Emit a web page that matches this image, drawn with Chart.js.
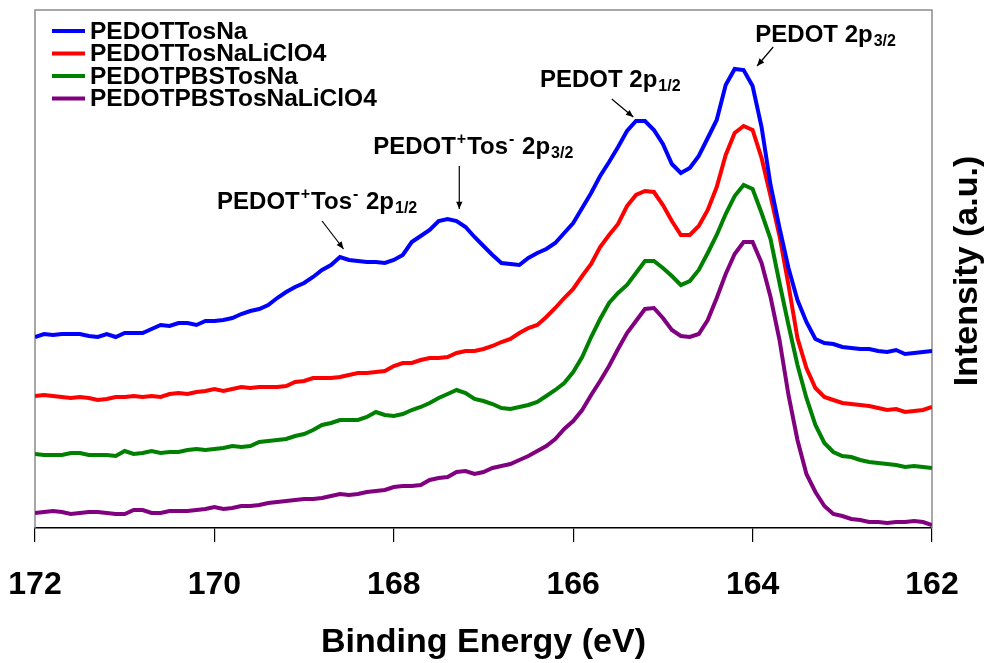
<!DOCTYPE html>
<html lang="en">
<head>
<meta charset="UTF-8" />
<title>S 2p spectra - PEDOT films</title>
<script src="https://cdn.jsdelivr.net/npm/chart.js@4.4.1/dist/chart.umd.min.js"></script>
<style>
  html, body { margin: 0; padding: 0; background: #fff; }
  #wrap { width: 988px; height: 663px; }
</style>
</head>
<body>
<div id="wrap"><canvas id="xps"></canvas></div>
<script>
// binding energy of each scan step (eV), 172 -> 162
const energies = [
  172.0, 171.9, 171.8, 171.7, 171.6, 171.5, 171.4, 171.3, 171.2, 171.1,
  171.0, 170.9, 170.8, 170.7, 170.6, 170.5, 170.4, 170.3, 170.2, 170.1,
  170.0, 169.9, 169.8, 169.7, 169.6, 169.5, 169.4, 169.3, 169.2, 169.1,
  169.0, 168.9, 168.8, 168.7, 168.6, 168.5, 168.4, 168.3, 168.2, 168.1,
  168.0, 167.9, 167.8, 167.7, 167.6, 167.5, 167.4, 167.3, 167.2, 167.1,
  167.0, 166.9, 166.8, 166.7, 166.6, 166.5, 166.4, 166.3, 166.2, 166.1,
  166.0, 165.9, 165.8, 165.7, 165.6, 165.5, 165.4, 165.3, 165.2, 165.1,
  165.0, 164.9, 164.8, 164.7, 164.6, 164.5, 164.4, 164.3, 164.2, 164.1,
  164.0, 163.9, 163.8, 163.7, 163.6, 163.5, 163.4, 163.3, 163.2, 163.1,
  163.0, 162.9, 162.8, 162.7, 162.6, 162.5, 162.4, 162.3, 162.2, 162.1,
  162.0
];

// intensities (a.u., curves stacked with offsets)
const tosNa = [
  191, 194, 193, 194, 194, 194, 192, 191, 194, 191,
  195, 195, 195, 199, 203, 202, 205, 205, 203, 207,
  207, 208, 210, 214, 217, 219, 223, 230, 236, 241,
  245, 251, 258, 263, 271, 268, 267, 266, 266, 265,
  268, 273, 286, 292, 298, 307, 309, 307, 301, 291,
  282, 273, 265, 264, 263, 270, 275, 279, 285, 295,
  305, 320, 335, 352, 366, 381, 397, 407, 407, 398,
  384, 364, 355, 360, 372, 390, 408, 443, 459, 458,
  442, 401, 343, 300, 260, 228, 206, 189, 185, 184,
  181, 180, 179, 179, 177, 176, 178, 174, 175, 176,
  177
];
const tosNaLiClO4 = [
  132, 133, 132, 131, 130, 131, 130, 128, 129, 131,
  131, 132, 131, 132, 131, 134, 135, 134, 136, 137,
  139, 137, 139, 141, 140, 141, 141, 141, 142, 146,
  147, 150, 150, 150, 151, 153, 155, 155, 156, 157,
  162, 165, 165, 168, 170, 170, 171, 175, 177, 177,
  179, 182, 186, 189, 195, 200, 203, 211, 220, 230,
  239, 252, 264, 281, 293, 304, 322, 333, 337, 336,
  323, 307, 293, 293, 302, 318, 341, 373, 395, 402,
  398, 370, 332, 292, 243, 190, 160, 140, 131, 128,
  125, 124, 123, 122, 120, 118, 119, 116, 117, 118,
  121
];
const pbsTosNa = [
  74, 73, 73, 73, 75, 75, 73, 73, 73, 72,
  77, 74, 75, 77, 75, 76, 76, 78, 79, 78,
  79, 80, 82, 81, 82, 86, 87, 88, 89, 92,
  94, 98, 103, 105, 108, 108, 108, 111, 116, 113,
  112, 114, 118, 121, 125, 130, 134, 138, 135, 129,
  127, 124, 120, 119, 121, 123, 126, 132, 138, 145,
  156, 171, 191, 209, 225, 235, 243, 255, 267, 267,
  260, 252, 243, 247, 258, 275, 293, 314, 332, 343,
  339, 315, 289, 245, 203, 163, 130, 103, 85, 76,
  72, 71, 68, 66, 65, 64, 63, 61, 62, 61,
  60
];
const pbsTosNaLiClO4 = [
  15, 16, 17, 16, 14, 15, 16, 16, 15, 14,
  14, 18, 18, 15, 15, 17, 17, 17, 18, 19,
  21, 19, 20, 22, 22, 23, 25, 26, 27, 28,
  29, 29, 30, 32, 34, 33, 34, 36, 37, 38,
  41, 42, 42, 43, 48, 50, 51, 56, 57, 54,
  56, 60, 62, 64, 68, 72, 77, 82, 89, 99,
  107, 118, 133, 147, 162, 179, 195, 207, 219, 220,
  210, 198, 192, 191, 194, 208, 230, 254, 274, 286,
  286, 265, 231, 188, 133, 88, 54, 36, 22, 14,
  12, 9, 8, 6, 6, 5, 6, 6, 7, 6,
  3
];

const seriesNames = ['PEDOTTosNa', 'PEDOTTosNaLiClO4', 'PEDOTPBSTosNa', 'PEDOTPBSTosNaLiClO4'];
const seriesColors = ['#0000ff', '#ff0000', '#008000', '#800080'];
const seriesValues = [tosNa, tosNaLiClO4, pbsTosNa, pbsTosNaLiClO4];
const energyTicks = [172, 170, 168, 166, 164, 162];

const FONT = '"Liberation Sans", Arial, Helvetica, sans-serif';

// peak labels: text pieces + arrow (tail -> head), all in data units
const peakLabels = [
  { at: [163.97, 486], parts: [['PEDOT 2p'], ['3/2', 'sub']],
    arrow: [[163.77, 481], [163.95, 462]] },
  { at: [166.37, 441], parts: [['PEDOT 2p'], ['1/2', 'sub']],
    arrow: [[165.57, 429], [165.33, 411]] },
  { at: [168.23, 374], parts: [['PEDOT'], ['+', 'sup'], ['Tos'], ['-', 'sup'], [' 2p'], ['3/2', 'sub']],
    arrow: [[167.27, 362], [167.27, 319]] },
  { at: [169.97, 319], parts: [['PEDOT'], ['+', 'sup'], ['Tos'], ['-', 'sup'], [' 2p'], ['1/2', 'sub']],
    arrow: [[168.80, 307], [168.56, 279]] }
];

// gray frame on left, top and right of the plot
const framePlugin = {
  id: 'frame',
  beforeDatasetsDraw(chart) {
    const { ctx, chartArea: a } = chart;
    ctx.save();
    ctx.strokeStyle = '#8c8c8c';
    ctx.lineWidth = 1.5;
    ctx.beginPath();
    ctx.moveTo(a.left, a.bottom);
    ctx.lineTo(a.left, a.top);
    ctx.lineTo(a.right, a.top);
    ctx.lineTo(a.right, a.bottom);
    ctx.stroke();
    ctx.restore();
  }
};

// legend box in the upper left corner
const legendPlugin = {
  id: 'cornerLegend',
  afterDatasetsDraw(chart) {
    const { ctx, chartArea: a } = chart;
    ctx.save();
    ctx.font = 'bold 24.5px ' + FONT;
    ctx.textBaseline = 'middle';
    ctx.fillStyle = '#000';
    chart.data.datasets.forEach((ds, i) => {
      const y = a.top + 21 + i * 22.5;
      ctx.strokeStyle = ds.borderColor;
      ctx.lineWidth = 4;
      ctx.beginPath();
      ctx.moveTo(a.left + 17, y);
      ctx.lineTo(a.left + 50, y);
      ctx.stroke();
      ctx.fillText(ds.label, a.left + 55, y + 1);
    });
    ctx.restore();
  }
};

// peak assignments with arrows
const peakPlugin = {
  id: 'peaks',
  afterDatasetsDraw(chart) {
    const { ctx } = chart;
    const xs = chart.scales.x, ys = chart.scales.y;
    ctx.save();
    ctx.fillStyle = '#000';
    ctx.strokeStyle = '#000';
    ctx.textBaseline = 'alphabetic';
    peakLabels.forEach(p => {
      let x = xs.getPixelForValue(p.at[0]);
      const y = ys.getPixelForValue(p.at[1]);
      p.parts.forEach(([t, kind]) => {
        if (kind === 'sub') {
          ctx.font = 'bold 16px ' + FONT;
          ctx.fillText(t, x + 1, y + 4);
        } else if (kind === 'sup') {
          ctx.font = 'bold 16px ' + FONT;
          ctx.fillText(t, x + 1, y - 10);
          x += 2;
        } else {
          ctx.font = 'bold 24px ' + FONT;
          ctx.fillText(t, x, y);
        }
        x += ctx.measureText(t).width + (kind === 'sub' ? 1 : 0);
      });
      const x1 = xs.getPixelForValue(p.arrow[0][0]), y1 = ys.getPixelForValue(p.arrow[0][1]);
      const x2 = xs.getPixelForValue(p.arrow[1][0]), y2 = ys.getPixelForValue(p.arrow[1][1]);
      ctx.lineWidth = 1.2;
      ctx.beginPath();
      ctx.moveTo(x1, y1);
      ctx.lineTo(x2, y2);
      ctx.stroke();
      const ang = Math.atan2(y2 - y1, x2 - x1);
      ctx.beginPath();
      ctx.moveTo(x2, y2);
      ctx.lineTo(x2 - 8 * Math.cos(ang - 0.4), y2 - 8 * Math.sin(ang - 0.4));
      ctx.lineTo(x2 - 8 * Math.cos(ang + 0.4), y2 - 8 * Math.sin(ang + 0.4));
      ctx.closePath();
      ctx.fill();
    });
    ctx.restore();
  }
};

// intensity title on the right, reading bottom to top
const yTitlePlugin = {
  id: 'yTitle',
  afterDraw(chart) {
    const { ctx, chartArea: a } = chart;
    ctx.save();
    ctx.translate(968, (a.top + a.bottom) / 2 + 2);
    ctx.rotate(-Math.PI / 2);
    ctx.font = 'bold 34px ' + FONT;
    ctx.fillStyle = '#000';
    ctx.textAlign = 'center';
    ctx.textBaseline = 'middle';
    ctx.fillText('Intensity (a.u.)', 0, 0);
    ctx.restore();
  }
};

const datasets = seriesValues.map((vals, i) => ({
  label: seriesNames[i],
  data: energies.map((e, j) => ({ x: e, y: vals[j] })),
  borderColor: seriesColors[i],
  backgroundColor: seriesColors[i],
  borderWidth: 4,
  pointRadius: 0,
  tension: 0,
  fill: false
}));

new Chart(document.getElementById('xps'), {
  type: 'line',
  data: { datasets },
  options: {
    responsive: true,
    maintainAspectRatio: false,
    animation: false,
    devicePixelRatio: 1,
    layout: { padding: { left: 35, right: 56, top: 10, bottom: 0 } },
    plugins: {
      legend: { display: false },
      tooltip: { enabled: false }
    },
    scales: {
      x: {
        type: 'linear',
        reverse: true,
        min: 162,
        max: 172,
        afterBuildTicks: (s) => { s.ticks = energyTicks.map(v => ({ value: v })); },
        afterFit: (s) => {
          s.height = 135;
          // edge labels fit inside the outer padding already
          s.paddingLeft = 0;
          s.paddingRight = 0;
        },
        ticks: {
          color: '#000',
          font: { family: FONT, size: 32, weight: 'bold' },
          padding: 24,
          maxRotation: 0
        },
        grid: {
          drawOnChartArea: false,
          drawTicks: true,
          tickLength: 14,
          color: '#000',
          lineWidth: 1.2
        },
        border: { color: '#000', width: 1.5 },
        title: {
          display: true,
          text: 'Binding Energy (eV)',
          color: '#000',
          font: { family: FONT, size: 34, weight: 'bold' },
          padding: { top: 0, bottom: 0 }
        }
      },
      y: {
        display: false,
        min: 0,
        max: 518
      }
    }
  },
  plugins: [framePlugin, legendPlugin, peakPlugin, yTitlePlugin]
});
</script>
</body>
</html>
